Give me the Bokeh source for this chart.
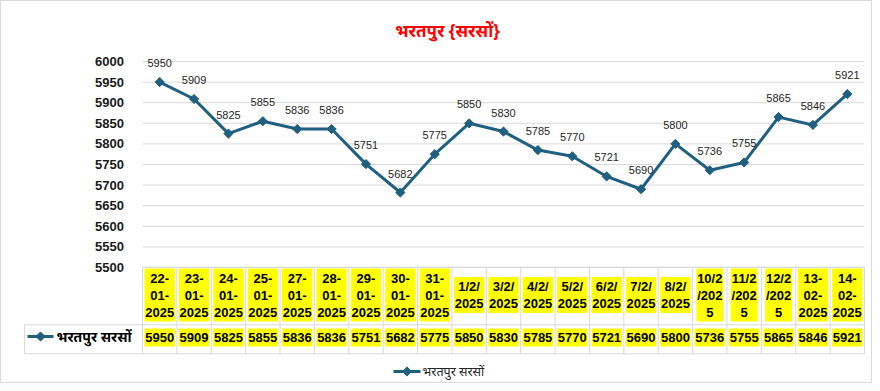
import numpy as np
from bokeh.plotting import figure
from bokeh.models import Range1d
from bokeh.core.properties import value
from bokeh.embed import file_html
from bokeh.resources import INLINE

# ---------------- data ----------------
title_text = "भरतपुर {सरसों}"
series_name = "भरतपुर सरसों"
date_labels = [
    "22-\n01-\n2025", "23-\n01-\n2025", "24-\n01-\n2025", "25-\n01-\n2025",
    "27-\n01-\n2025", "28-\n01-\n2025", "29-\n01-\n2025", "30-\n01-\n2025",
    "31-\n01-\n2025", "1/2/\n2025", "3/2/\n2025", "4/2/\n2025", "5/2/\n2025",
    "6/2/\n2025", "7/2/\n2025", "8/2/\n2025", "10/2\n/202\n5", "11/2\n/202\n5",
    "12/2\n/202\n5", "13-\n02-\n2025", "14-\n02-\n2025",
]
values = [5950, 5909, 5825, 5855, 5836, 5836, 5751, 5682, 5775, 5850, 5830,
          5785, 5770, 5721, 5690, 5800, 5736, 5755, 5865, 5846, 5921]
y_ticks = [5500, 5550, 5600, 5650, 5700, 5750, 5800, 5850, 5900, 5950, 6000]

# ---------------- layout (reference pixel geometry) ----------------
W, H = 872, 383
PX0, PX1, PY0, PY1 = 0, W, 0, H
L, R, T, B = 142, 864, 61, 267
n = len(values)
cw = (R - L) / n
ymin, ymax = y_ticks[0], y_ticks[-1]


def cx(X):
    return (X - L) / cw - 0.5


def vy(Y):
    return ymax - (Y - T) * ((ymax - ymin) / (B - T))


LINE_COLOR = "#1F5F7F"
GRID = "#D9D9D9"
YELLOW = "#FFFF00"
NUM_FONT = value("Liberation Sans")
DEV_FONT = value("Noto Sans")

p = figure(width=W, height=H, output_backend="svg", toolbar_location=None,
           x_range=Range1d(cx(PX0), cx(PX1)), y_range=Range1d(vy(PY1), vy(PY0)),
           x_axis_location=None, y_axis_location=None, min_border=0)
p.extra_x_ranges = {"px": Range1d(PX0, PX1)}
p.extra_y_ranges = {"px": Range1d(PY1, PY0)}
p.grid.visible = False
p.outline_line_color = GRID
p.background_fill_color = "white"
p.border_fill_color = "white"

idx = list(range(n))

# gridlines
p.segment(x0=[-0.5] * len(y_ticks), x1=[n - 0.5] * len(y_ticks), y0=y_ticks, y1=y_ticks,
          line_color=GRID, line_width=1)

# y tick labels
p.text(x=[123.5] * len(y_ticks), y=y_ticks, text=[str(t) for t in y_ticks],
       x_range_name="px", text_align="right", text_baseline="middle",
       text_font=NUM_FONT, text_font_style="bold", text_font_size="13px", text_color="#1a1a1a")

# series
p.line(idx, values, line_color=LINE_COLOR, line_width=3)
p.scatter(idx, values, marker="square", angle=np.pi / 4, size=6.5,
          fill_color=LINE_COLOR, line_color=LINE_COLOR)
p.text(idx, values, text=[str(v) for v in values], y_offset=-19,
       text_align="center", text_baseline="middle", text_font=NUM_FONT,
       text_font_size="11px", text_color="#262626")

# ---------------- data table ----------------
CW = {"-": 0.333, "/": 0.278}


def tw(s, size=13):
    return sum(CW.get(c, 0.556) for c in s) * size


TOP, MID, BOT = 266.7, 324.3, 353.3
row1_c, row2_c = (TOP + MID) / 2 - 1, 337
LS = 17

# yellow backgrounds + labels for categories
rx, ry, rw, rh = [], [], [], []
tx, ty, tt = [], [], []
for i, lab in enumerate(date_labels):
    lines = lab.split("\n")
    k = len(lines)
    rx.append(i)
    ry.append(row1_c)
    rw.append(max(tw(s) for s in lines) + 1.5)
    rh.append(k * LS + 2)
    for j, s in enumerate(lines):
        tx.append(i)
        ty.append(row1_c + (j - (k - 1) / 2) * LS)
        tt.append(s)
p.rect(x=rx, y=ry, width=rw, height=rh, width_units="screen", height_units="screen",
       y_range_name="px", fill_color=YELLOW, line_color=None)
p.text(x=tx, y=ty, text=tt, y_range_name="px", text_align="center", text_baseline="middle",
       text_font=NUM_FONT, text_font_style="bold", text_font_size="13px", text_color="black")

# values row
p.rect(x=idx, y=[row2_c] * n, width=[tw(str(v)) + 1.5 for v in values], height=18,
       width_units="screen", height_units="screen", y_range_name="px",
       fill_color=YELLOW, line_color=None)
p.text(x=idx, y=[row2_c] * n, text=[str(v) for v in values], y_range_name="px",
       text_align="center", text_baseline="middle", text_font=NUM_FONT,
       text_font_style="bold", text_font_size="13px", text_color="black")

# table borders
vx = [k - 0.5 for k in range(n + 1)]
p.segment(x0=vx, x1=vx, y0=[TOP] * len(vx), y1=[BOT] * len(vx), y_range_name="px",
          line_color=GRID, line_width=1)
lx = cx(24)
p.segment(x0=[-0.5, lx, lx, lx], x1=[n - 0.5, n - 0.5, n - 0.5, lx],
          y0=[TOP, MID, BOT, MID], y1=[TOP, MID, BOT, BOT], y_range_name="px",
          line_color=GRID, line_width=1)

# legend key inside table
p.line(x=[27, 53], y=[336, 336], x_range_name="px", y_range_name="px",
       line_color=LINE_COLOR, line_width=3)
p.scatter(x=[40], y=[336], x_range_name="px", y_range_name="px", marker="square",
          angle=np.pi / 4, size=6.5, fill_color=LINE_COLOR, line_color=LINE_COLOR)
p.text(x=[56], y=[336], text=[series_name], x_range_name="px", y_range_name="px",
       text_align="left", text_baseline="middle", text_font=DEV_FONT,
       text_font_style="bold", text_font_size="14px", text_color="black")

# bottom legend
p.line(x=[393, 420], y=[371, 371], x_range_name="px", y_range_name="px",
       line_color=LINE_COLOR, line_width=3)
p.scatter(x=[406.5], y=[371], x_range_name="px", y_range_name="px", marker="square",
          angle=np.pi / 4, size=6.5, fill_color=LINE_COLOR, line_color=LINE_COLOR)
p.text(x=[422], y=[371], text=[series_name], x_range_name="px", y_range_name="px",
       text_align="left", text_baseline="middle", text_font=DEV_FONT,
       text_font_size="12.5px", text_color="#262626")

# title
p.text(x=[447], y=[30], text=[title_text], x_range_name="px", y_range_name="px",
       text_align="center", text_baseline="middle", text_font=DEV_FONT,
       text_font_style="bold", text_font_size="17px", text_color="#FF0000")

open("out.html", "w").write(file_html(p, INLINE))
